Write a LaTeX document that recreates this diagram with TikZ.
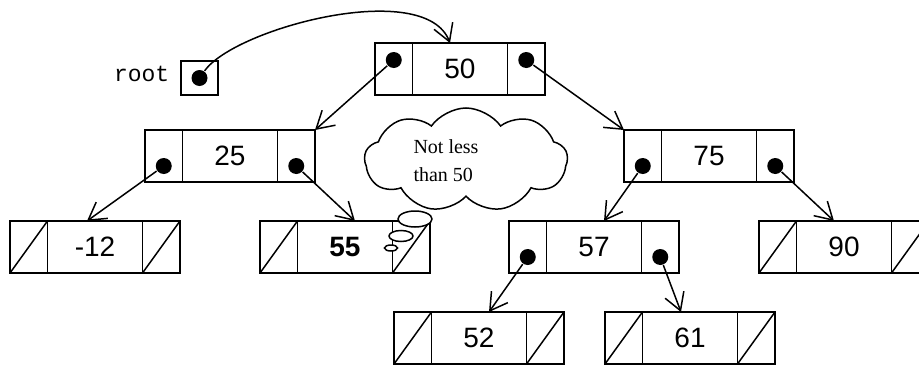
\documentclass[tikz,border=0pt]{standalone}
\usepackage{fontspec}
\setmainfont{Liberation Sans}
\newfontfamily\timesfont{Liberation Serif}
\newfontfamily\courierfont{Liberation Mono}
\usetikzlibrary{arrows.meta, positioning, shapes.geometric, shapes.symbols}

\begin{document}
\begin{tikzpicture}[
		x=1pt, y=-1pt,
		line width=1.5pt,
		mid/.style={draw, minimum width=95pt, minimum height=52pt, inner sep=0pt, outer sep=0pt, font=\fontsize{28}{32}\selectfont},
		side/.style={draw, minimum width=37.5pt, minimum height=52pt, inner sep=0pt, outer sep=0pt},
		nil/.style={side, path picture={\draw (path picture bounding box.south west) -- (path picture bounding box.north east);}},
		ptrdot/.style={circle, fill, inner sep=0pt, minimum size=16pt},
		ptr/.style={-{Straight Barb[length=17pt, width=20pt]}},
		bubble/.style={draw, fill=white, ellipse, inner sep=0pt}
	]
		\useasboundingbox (0,0) rectangle (919,367);

		% root pointer
		\node[draw, minimum width=37pt, minimum height=34pt, inner sep=0pt, outer sep=0pt] (root) at (199.5,78) {};
		\node[font=\courierfont\fontsize{23}{25}\selectfont, inner sep=0pt, anchor=base east] (rootlbl) at ([xshift=-11pt, yshift=-3pt]root.west) {root};
		\node[ptrdot] (droot) at (root.center) {};

		% level 0: 50
		\node[mid] (n50) at (460,69) {50};
		\node[side, left=0pt of n50] (n50l) {};
		\node[side, right=0pt of n50] (n50r) {};
		\node[ptrdot] (d50l) at ([yshift=9pt]n50l.center) {};
		\node[ptrdot] (d50r) at ([yshift=9pt]n50r.center) {};

		% level 1: 25 and 75
		\node[mid] (n25) at (230,156) {25};
		\node[side, left=0pt of n25] (n25l) {};
		\node[side, right=0pt of n25] (n25r) {};
		\node[ptrdot] (d25l) at ([yshift=-10pt]n25l.center) {};
		\node[ptrdot] (d25r) at ([yshift=-10pt]n25r.center) {};

		\node[mid] (n75) at (709,156) {75};
		\node[side, left=0pt of n75] (n75l) {};
		\node[side, right=0pt of n75] (n75r) {};
		\node[ptrdot] (d75l) at ([yshift=-10pt]n75l.center) {};
		\node[ptrdot] (d75r) at ([yshift=-10pt]n75r.center) {};

		% level 2: -12, 55, 57, 90
		\node[mid] (n12) at (95,247) {-12};
		\node[nil, left=0pt of n12] (n12l) {};
		\node[nil, right=0pt of n12] (n12r) {};

		\node[mid] (n55) at (345,247) {\bfseries 55};
		\node[nil, left=0pt of n55] (n55l) {};
		\node[nil, right=0pt of n55] (n55r) {};

		\node[mid] (n57) at (594,247) {57};
		\node[side, left=0pt of n57] (n57l) {};
		\node[side, right=0pt of n57] (n57r) {};
		\node[ptrdot] (d57l) at ([yshift=-10pt]n57l.center) {};
		\node[ptrdot] (d57r) at ([yshift=-10pt]n57r.center) {};

		\node[mid] (n90) at (844,247) {90};
		\node[nil, left=0pt of n90] (n90l) {};
		\node[nil, right=0pt of n90] (n90r) {};

		% level 3: 52 and 61
		\node[mid] (n52) at (479,338) {52};
		\node[nil, left=0pt of n52] (n52l) {};
		\node[nil, right=0pt of n52] (n52r) {};

		\node[mid] (n61) at (690,338) {61};
		\node[nil, left=0pt of n61] (n61l) {};
		\node[nil, right=0pt of n61] (n61r) {};

		% pointers
		\draw[ptr] (droot) .. controls (235,28) and (425,-22) .. ([xshift=-10pt]n50.north);
		\draw[ptr] (d50l) -- (n25r.north east);
		\draw[ptr] (d50r) -- (n75l.north west);
		\draw[ptr] (d25l) -- ([xshift=-8pt]n12.north);
		\draw[ptr] (d25r) -- ([xshift=10pt]n55.north);
		\draw[ptr] (d75l) -- ([xshift=10pt]n57.north);
		\draw[ptr] (d75r) -- ([xshift=-10pt]n90.north);
		\draw[ptr] (d57l) -- ([xshift=10pt]n52.north);
		\draw[ptr] (d57r) -- ([xshift=-9pt]n61.north);

		% thought cloud
		\node[cloud, draw, cloud puffs=9, cloud puff arc=110, aspect=2, minimum width=203pt, minimum height=104pt, inner sep=0pt] (think) at (466,160) {};
		\node[font=\timesfont\fontsize{20}{28}\selectfont, align=left] (thinktxt) at (446,161) {Not less\\than 50};
		\node[bubble, minimum width=34pt, minimum height=16pt] (b1) at (415,219) {};
		\node[bubble, minimum width=24pt, minimum height=11pt] (b2) at (401,236) {};
		\node[bubble, minimum width=13pt, minimum height=6pt] (b3) at (391,248) {};
	\end{tikzpicture}
\end{document}
